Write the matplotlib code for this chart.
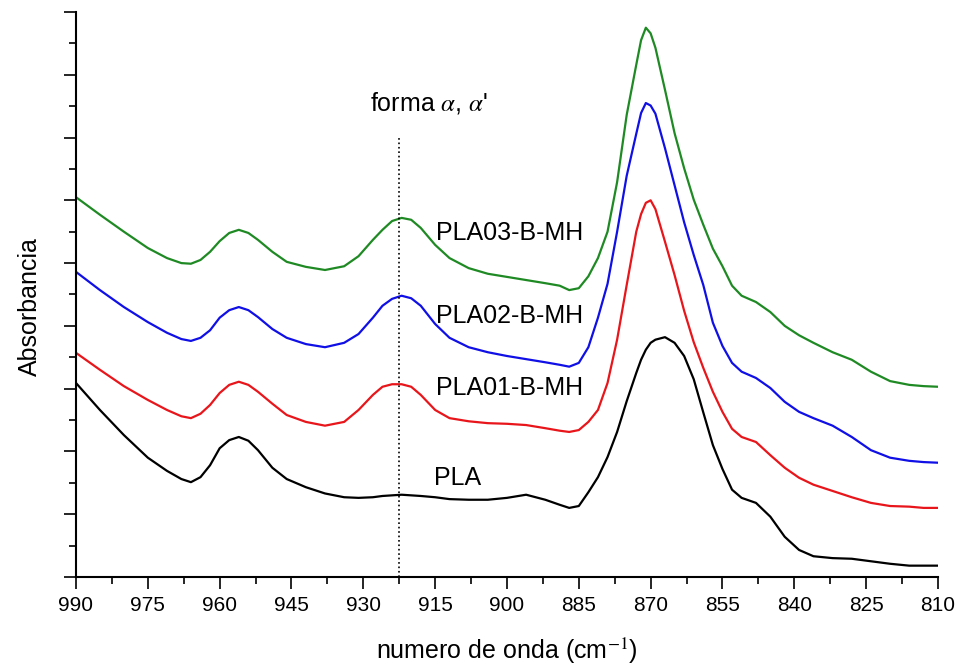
import matplotlib
matplotlib.use("Agg")
import matplotlib.pyplot as plt
from matplotlib.ticker import MultipleLocator

plt.rcParams['font.family'] = ['Liberation Sans', 'DejaVu Sans']
plt.rcParams['mathtext.fontset'] = 'stix'

# wavenumber grid (cm-1)
wavenumber = [990, 985, 980, 975, 971, 968, 966, 964, 962, 960,
              958, 956, 954, 952, 949, 946, 942, 938, 934, 931,
              928, 926, 924, 922, 920, 918, 915, 912, 908, 904,
              900, 896, 892, 889, 887, 885, 883, 881, 879, 877,
              875, 873, 872, 871, 870, 869, 867, 865, 863, 861,
              859, 857, 855, 853, 851, 848, 845, 842, 839, 836,
              832, 828, 824, 820, 816, 813, 810]

pla = [3.09, 2.66, 2.26, 1.90, 1.69, 1.56, 1.51, 1.59, 1.78, 2.05,
       2.18, 2.23, 2.17, 2.02, 1.74, 1.56, 1.43, 1.33, 1.27, 1.26,
       1.27, 1.29, 1.30, 1.31, 1.30, 1.29, 1.27, 1.24, 1.23, 1.23,
       1.26, 1.31, 1.23, 1.15, 1.10, 1.13, 1.35, 1.59, 1.91, 2.31,
       2.80, 3.25, 3.46, 3.62, 3.73, 3.78, 3.82, 3.73, 3.52, 3.15,
       2.62, 2.10, 1.72, 1.39, 1.26, 1.18, 0.96, 0.64, 0.43, 0.33,
       0.30, 0.29, 0.25, 0.21, 0.18, 0.18, 0.18]

pla01 = [3.57, 3.30, 3.04, 2.82, 2.66, 2.56, 2.53, 2.60, 2.74, 2.93,
         3.06, 3.11, 3.06, 2.95, 2.76, 2.58, 2.47, 2.41, 2.47, 2.66,
         2.90, 3.03, 3.07, 3.07, 3.03, 2.90, 2.66, 2.53, 2.48, 2.45,
         2.44, 2.42, 2.37, 2.33, 2.31, 2.34, 2.47, 2.66, 3.09, 3.78,
         4.65, 5.50, 5.78, 5.96, 6.00, 5.86, 5.34, 4.81, 4.24, 3.74,
         3.33, 2.95, 2.63, 2.36, 2.23, 2.15, 1.94, 1.74, 1.58, 1.47,
         1.37, 1.27, 1.18, 1.13, 1.12, 1.10, 1.10]

pla02 = [4.86, 4.57, 4.30, 4.06, 3.89, 3.79, 3.76, 3.81, 3.93, 4.13,
         4.25, 4.30, 4.25, 4.14, 3.95, 3.81, 3.71, 3.66, 3.73, 3.87,
         4.13, 4.32, 4.43, 4.48, 4.44, 4.32, 4.03, 3.81, 3.66, 3.58,
         3.52, 3.47, 3.42, 3.38, 3.35, 3.41, 3.66, 4.13, 4.67, 5.50,
         6.39, 7.06, 7.39, 7.55, 7.51, 7.38, 6.83, 6.24, 5.65, 5.13,
         4.65, 4.05, 3.68, 3.41, 3.27, 3.17, 3.01, 2.79, 2.63, 2.53,
         2.41, 2.23, 2.02, 1.90, 1.85, 1.83, 1.82]

pla03 = [6.05, 5.77, 5.50, 5.24, 5.08, 5.00, 4.99, 5.05, 5.18, 5.35,
         5.48, 5.53, 5.48, 5.37, 5.18, 5.02, 4.94, 4.89, 4.95, 5.11,
         5.37, 5.53, 5.67, 5.72, 5.69, 5.56, 5.29, 5.08, 4.92, 4.83,
         4.78, 4.73, 4.68, 4.64, 4.57, 4.60, 4.79, 5.08, 5.50, 6.29,
         7.36, 8.16, 8.55, 8.75, 8.66, 8.43, 7.76, 7.07, 6.51, 6.01,
         5.61, 5.23, 4.95, 4.64, 4.48, 4.38, 4.22, 4.00, 3.85, 3.73,
         3.58, 3.46, 3.27, 3.12, 3.06, 3.04, 3.03]

series = [
    (pla, 'black', 'PLA', 915.2, 1.58),
    (pla01, '#e8161b', 'PLA01-B-MH', 914.8, 3.01),
    (pla02, '#1010e6', 'PLA02-B-MH', 914.8, 4.16),
    (pla03, '#1f8a24', 'PLA03-B-MH', 914.8, 5.48),
]

fig = plt.figure(figsize=(9.62, 6.67), dpi=100)
ax = fig.add_axes([0.079, 0.135, 0.896, 0.847])

for vals, col, name, tx, ty in series:
    ax.plot(wavenumber, vals, color=col, lw=1.6)
    ax.text(tx, ty, name, fontsize=18, ha='left', va='center')

# marker line for the alpha form band
ax.plot([922.5, 922.5], [0, 7.0], color='black', ls=':', lw=1.2)
ax.text(928.6, 7.55, "forma $\\alpha$, $\\alpha$'", fontsize=18,
        ha='left', va='center')

ax.set_xlim(990, 810)
ax.set_ylim(0, 9)
ax.xaxis.set_major_locator(MultipleLocator(15))
ax.xaxis.set_minor_locator(MultipleLocator(7.5))
ax.yaxis.set_major_locator(MultipleLocator(1))
ax.yaxis.set_minor_locator(MultipleLocator(0.5))
ax.set_yticklabels([])
ax.tick_params(which='major', length=8.5, width=1.2, labelsize=15, pad=5)
ax.tick_params(which='minor', length=5, width=1.2)

for s in ['top', 'right']:
    ax.spines[s].set_visible(False)
for s in ['left', 'bottom']:
    ax.spines[s].set_linewidth(1.5)

ax.set_xlabel('numero de onda (cm$^{-1}$)', fontsize=18, labelpad=15)
ax.set_ylabel('Absorbancia', fontsize=18)
ax.yaxis.set_label_coords(-0.040, 0.478)

fig.savefig('out.png', dpi=100)
